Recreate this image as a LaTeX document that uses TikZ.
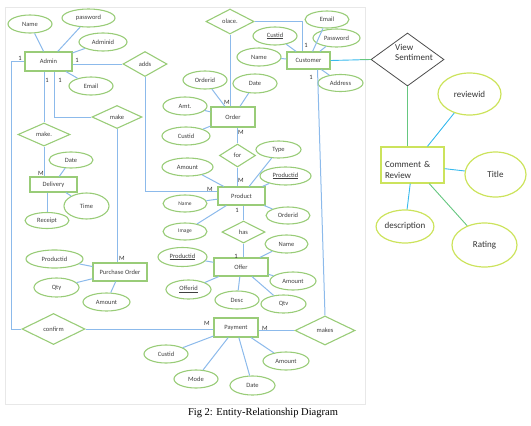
\documentclass[tikz,border=0pt]{standalone}
\usepackage{fontspec}
\setmainfont{Carlito}
\newfontfamily\capfont{Liberation Serif}
\usetikzlibrary{shapes.geometric,calc}
\definecolor{AttrClr}{rgb}{0.6,0.8,0.47}
\definecolor{LinkClr}{rgb}{0.55,0.73,0.92}
\definecolor{LimeClr}{rgb}{0.8,0.89,0.36}
\definecolor{CyanClr}{rgb}{0.22,0.73,0.93}
\definecolor{GreenLnClr}{rgb}{0.4,0.78,0.5}

\begin{document}
\begin{tikzpicture}[x=1pt,y=-1pt,
  attr/.style={ellipse,draw=AttrClr,line width=1.1pt,inner sep=0pt,minimum width=44pt,minimum height=18pt,text=black!75,font=\fontsize{6.5}{7}\selectfont},
  ent/.style={rectangle,draw=AttrClr,line width=1.1pt,inner sep=0pt,minimum width=44pt,minimum height=18pt,text=black!75,font=\fontsize{6.5}{7}\selectfont},
  rel/.style={diamond,draw=AttrClr,line width=1.1pt,inner sep=0pt,text=black!75,font=\fontsize{6.5}{7}\selectfont},
  card/.style={inner sep=0pt,text=black!80,font=\fontsize{6.5}{7}\selectfont},
  link/.style={draw=LinkClr,line width=1pt},
  rattr/.style={ellipse,draw=LimeClr,line width=1.2pt,inner sep=0pt,text=black!80,font=\fontsize{9}{10}\selectfont}]
\useasboundingbox (0,0) rectangle (531,426);
\draw[gray!18] (5,7) rectangle (365,404);

\node[ent] (admin) at (48.5,61.5) [minimum width=47pt,minimum height=19pt] {Admin};
\node[attr] (aname) at (30,24) {Name};
\node[attr] (apass) at (88.5,18) [minimum width=53pt] {password};
\node[attr] (aid) at (103,42) [minimum width=48pt] {Adminid};
\node[attr] (amail) at (91,86) {Email};
\node[rel] (adds) at (145,64) [minimum width=44pt,minimum height=25pt] {adds};
\node[rel] (makeA) at (44,134.5) [minimum width=52pt,minimum height=23pt] {make.};
\node[rel] (makeB) at (117,117) [minimum width=50pt,minimum height=23pt] {make};

\node[ent] (deliv) at (53.5,184.5) [minimum width=47pt,minimum height=15pt] {Delivery};
\node[attr] (ddate) at (71,160) [minimum height=16pt] {Date};
\node[attr] (dtime) at (86.5,206) [minimum width=45pt,minimum height=26pt] {Time};
\node[attr] (drec) at (47,220.5) [minimum height=16pt] {Receipt};

\node[ent] (purch) at (120,272) [minimum width=54pt] {Purchase Order};
\node[attr] (pprod) at (54.5,259) [minimum width=57pt] {Productid};
\node[attr] (pqty) at (56.5,287.5) [minimum width=45pt,minimum height=19pt] {Qty};
\node[attr] (pamt) at (106.5,302) [minimum width=47pt] {Amount};

\node[rel] (confirm) at (53.5,329) [minimum width=63pt,minimum height=31pt] {confirm};

\node[rel] (place) at (230,21.5) [minimum width=48pt,minimum height=25pt] {olace.};
\node[ent] (cust) at (308.5,60.5) [minimum width=43pt,minimum height=17pt] {Customer};
\node[attr] (cmail) at (327,19.5) [minimum height=17pt] {Email};
\node[attr] (cpass) at (336.5,38) [minimum width=47pt] {Password};
\node[attr] (cid) at (275,36) {\underline{Custid}};
\node[attr] (cname) at (259,57) {Name};
\node[attr] (caddr) at (340.5,83) [minimum width=45pt,minimum height=17pt] {Address};

\node[ent] (order) at (233,117) [minimum height=20pt] {Order};
\node[attr] (oid) at (205,80) {Orderid};
\node[attr] (odate) at (255,83.5) [minimum height=19pt] {Date};
\node[attr] (oamt) at (185,106) {Amt.};
\node[attr] (ocust) at (186,136) [minimum width=48pt] {Custid};
\node[rel] (forr) at (237.5,155.5) [minimum width=36pt,minimum height=23pt] {for};

\node[ent] (prod) at (241.5,196) [minimum width=47pt] {Product};
\node[attr] (ptype) at (278.5,149.5) [minimum width=45pt,minimum height=17pt] {Type};
\node[attr] (pid) at (285.5,176) [minimum width=51pt] {\underline{Productid}};
\node[attr] (pamount) at (187.5,167) [minimum width=51pt] {Amount};
\node[attr] (pname) at (185,203.5) [minimum height=17pt,font=\fontsize{5.5}{6}\selectfont] {Name};
\node[attr] (pimg) at (185,231.5) [minimum height=17pt,font=\fontsize{5.5}{6}\selectfont] {Image};
\node[attr] (poid) at (288,215.5) [minimum height=17pt] {Orderid};
\node[rel] (has) at (243.5,232) [minimum width=43pt,minimum height=22pt] {has};

\node[ent] (offer) at (241,267) [minimum width=54pt] {Offer};
\node[attr] (fprod) at (182.5,257) [minimum width=49pt,minimum height=19pt] {\underline{Productid}};
\node[attr] (fname) at (286.5,244) [minimum width=43pt] {Name};
\node[attr] (famt) at (293,281) [minimum width=46pt] {Amount};
\node[attr] (fid) at (188.5,289.5) [minimum width=45pt,minimum height=19pt] {\underline{Offerid}};
\node[attr] (fdesc) at (237,300) {Desc};
\node[attr] (fqty) at (283.5,304) [minimum width=45pt] {Qtv};

\node[ent] (pay) at (236,327.5) [minimum height=19pt] {Payment};
\node[attr] (ycust) at (166,354) {Custid};
\node[attr] (ymode) at (196,379) {Mode};
\node[attr] (ydate) at (252.5,385.5) [minimum width=45pt,minimum height=19pt] {Date};
\node[attr] (yamt) at (286,361) [minimum width=46pt] {Amount};
\node[rel] (makes) at (325,330.5) [minimum width=60pt,minimum height=29pt] {makes};

\draw[link] (aname) -- (admin) (apass) -- (admin) (aid) -- (admin) (amail) -- (admin);
\draw[link] (admin.east |- adds.west) -- (adds.west);
\draw[link] (adds.south) |- ($(prod.west)+(0,-5)$);
\draw[link] (admin.west) -- ++(-13,0) |- (confirm.west);
\draw[link] (admin.south -| makeA.north) -- (makeA.north);
\draw[link] ($(admin.south)+(5.5,0)$) |- (makeB.west);
\draw[link] (makeA.south) -- (makeA.south |- deliv.north);
\draw[link] (makeB.south) -- (makeB.south |- purch.north);
\draw[link] (ddate) -- (deliv) (dtime) -- (deliv);
\draw[link] (drec.north) -- (drec.north |- deliv.south);
\draw[link] (pprod) -- (purch) (pqty) -- (purch) (pamt) -- (purch);

\draw[link] (place.east) -| ($(cust.north)+(-6,0)$);
\draw[link] (place.south) -- (place.south |- order.north);
\draw[link] (cmail) -- (cust) (cpass) -- (cust) (cid) -- (cust) (cname) -- (cust) (caddr) -- (cust);
\draw[link] (oid) -- (order) (odate) -- (order) (oamt) -- (order) (ocust) -- (order);
\draw[link] (forr.north |- order.south) -- (forr.north);
\draw[link] (forr.south) -- (forr.south |- prod.north);
\draw[link] (ptype) -- (prod) (pid) -- (prod) (pamount) -- (prod) (pname) -- (prod) (pimg) -- (prod) (poid) -- (prod);
\draw[link] (has.north |- prod.south) -- (has.north);
\draw[link] (has.south) -- (has.south |- offer.north);
\draw[link] (fprod) -- (offer) (fname) -- (offer) (famt) -- (offer) (fid) -- (offer) (fdesc) -- (offer) (fqty) -- (offer);
\draw[link] (confirm.east) -- (confirm.east -| pay.west);
\draw[link] (ycust) -- (pay) (ymode) -- (pay) (ydate) -- (pay) (yamt) -- (pay);
\draw[link] (pay.east |- makes.west) -- (makes.west);
\draw[link] (makes.north) -- ($(cust.south)+(9,0)$);

\node[card] (c1) at (20,58) {1};
\node[card] (c2) at (77,60) {1};
\node[card] (c3) at (47,80) {1};
\node[card] (c4) at (60,80) {1};
\node[card] (c5) at (41,173) {M};
\node[card] (c6) at (122,258) {M};
\node[card] (c7) at (227,102) {M};
\node[card] (c8) at (241,132) {M};
\node[card] (c9) at (241,180) {M};
\node[card] (c10) at (210,189) {M};
\node[card] (c11) at (237,210) {1};
\node[card] (c12) at (236,256) {1};
\node[card] (c13) at (306,45) {1};
\node[card] (c14) at (311,77) {1};
\node[card] (c15) at (207,323) {M};
\node[card] (c16) at (265,328) {M};

\node[diamond,draw=black!70,line width=0.8pt,inner sep=0pt,minimum width=73pt,minimum height=53pt,text=black!80,font=\fontsize{9}{10}\selectfont] (view) at (407.5,59.5) {\makebox[0pt]{\raisebox{4pt}[0pt][0pt]{\hspace*{13pt}\begin{tabular}{@{}l@{}}View\\Sentiment\end{tabular}}}};
\node[rectangle,draw=LimeClr,line width=1.2pt,inner sep=4pt,minimum height=36pt,text width=55pt,align=left,text=black!80,font=\fontsize{9}{11}\selectfont] (comm) at (412.5,165) {\rule{0pt}{16pt}Comment \&\\Review};
\node[rattr] (rid) at (469.5,94) [minimum width=63pt,minimum height=42pt] {reviewid};
\node[rattr] (rtitle) at (495.5,174.5) [minimum width=61pt,minimum height=45pt] {Title};
\node[rattr] (rdesc) at (405,226.5) [minimum width=48pt,minimum height=33pt] {description};
\node[rattr] (rrate) at (484.5,245) [minimum width=65pt,minimum height=44pt] {Rating};

\draw[CyanClr,line width=0.9pt] (cust.east) -- (view.west);
\draw[GreenLnClr,line width=0.9pt] ($(view.west)+(-11,0)$) -- (view.west);
\draw[GreenLnClr,line width=0.9pt] (view.south) -- (view.south |- comm.north);
\draw[CyanClr,line width=0.9pt] (rid) -- (comm) (rtitle) -- (comm) (rdesc) -- (comm);
\draw[GreenLnClr,line width=0.9pt] (rrate) -- (comm);

\node[font=\capfont\fontsize{10.5}{12}\selectfont] (cap) at (263,413) {Fig 2: Entity-Relationship Diagram};
\end{tikzpicture}
\end{document}
